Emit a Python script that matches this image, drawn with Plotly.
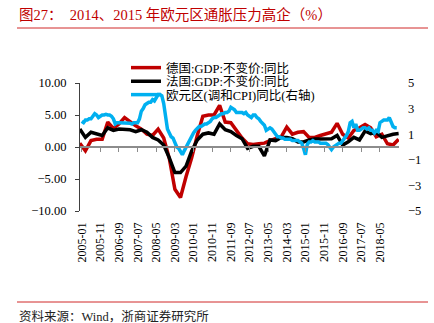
import pandas as pd
import plotly.graph_objects as go

# Monthly categories, 2005-01 .. 2019-02
months = [p.strftime("%Y-%m") for p in pd.period_range("2005-01", "2019-02", freq="M")]

# Quarterly GDP, constant prices, y/y (%), 2004Q4 .. 2019Q1
quarters = [str(p) for p in pd.period_range("2004Q4", "2019Q1", freq="Q")]
de_gdp = [0.6,
          -0.6, 1.0, 1.2, 1.2,
          3.9, 2.9, 3.6, 4.6,
          3.9, 3.3, 2.8, 2.0,
          1.8, 2.8, 1.4, -1.8,
          -6.6, -7.9, -4.6, -1.7,
          1.8, 4.8, 5.0, 5.0,
          6.5, 3.9, 3.8, 2.5,
          1.4, 0.5, 0.4, 0.5,
          0.6, 1.0, 1.25, 1.6,
          3.1, 2.0, 2.3, 2.4,
          1.5, 1.5, 1.8, 2.0,
          2.3, 3.7, 2.0, 1.4,
          2.6, 3.0, 3.5, 3.0,
          1.6, 2.0, 0.5, 0.3,
          1.2]
fr_gdp = [2.8,
          1.5, 2.3, 2.0, 1.8,
          3.0, 2.6, 2.8, 2.8,
          2.7, 2.4, 2.7, 2.3,
          1.5, 1.1, 0.3, -1.7,
          -4.0, -4.0, -3.0, -0.6,
          1.1, 2.0, 2.2, 2.0,
          3.6, 2.7, 2.4, 1.8,
          1.3, -0.2, 0.1, 0.1,
          -1.4, 1.1, 1.0, 1.5,
          1.5, 1.3, 0.8, 0.8,
          1.1, 1.25, 1.25, 1.3,
          1.3, 1.8, 0.3, 0.8,
          1.5, 1.1, 2.5, 2.1,
          2.3, 1.5, 1.8, 2.0,
          2.1]

# Euro area HICP y/y (%), monthly
ea_hicp = [
    2.0, 1.9, 2.1, 2.1, 2.2, 2.2, 2.4, 2.6, 2.5, 2.3, 2.4, 2.5,   # 2005
    2.5, 2.55, 2.5, 2.5, 2.4, 2.2, 1.8, 1.9, 1.9, 1.9, 1.85, 1.85,  # 2006
    1.9, 1.9, 1.85, 1.8, 1.9, 1.9, 1.9, 2.2, 2.8, 3.0, 3.3, 3.4,  # 2007
    3.5, 3.5, 3.7, 3.6, 3.9, 4.1, 4.1, 4.0, 3.4, 2.4, 1.4, 1.1,   # 2008
    0.8, 0.7, 0.3, 0.0, -0.1, -0.4, -0.6, -0.3, 0.0, 0.3, 0.6, 0.9,  # 2009
    1.1, 1.3, 1.5, 1.6, 1.6, 1.7, 1.8, 1.8, 1.9, 2.0, 2.2, 2.3,   # 2010
    2.3, 2.4, 2.5, 2.6, 2.6, 2.7, 2.7, 2.8, 3.1, 3.0, 2.9, 2.7,   # 2011
    2.7, 2.7, 2.7, 2.6, 2.7, 2.5, 2.4, 2.3, 2.5, 2.5, 2.3, 2.2,   # 2012
    2.0, 1.8, 1.7, 1.3, 1.4, 1.5, 1.4, 1.2, 1.0, 0.8, 0.8, 0.7,   # 2013
    0.7, 0.6, 0.6, 0.6, 0.6, 0.5, 0.5, 0.5, 0.5, 0.4, 0.3, -0.1,  # 2014
    -0.6, 0.2, 0.4, 0.4, 0.5, 0.4, 0.4, 0.4, 0.3, 0.3, 0.3, 0.3,  # 2015
    0.2, 0.0, -0.2, 0.0, 0.1, 0.2, 0.3, 0.3, 0.5, 0.6, 0.9, 1.2,  # 2016
    1.9, 2.0, 1.5, 1.8, 1.3, 1.3, 1.4, 1.5, 1.5, 1.4, 1.5, 1.3,   # 2017
    1.3, 1.1, 1.3, 1.2, 1.9, 2.0, 2.1, 2.1, 2.1, 2.3, 1.9, 1.6,   # 2018
    1.5, 1.5,                                                     # 2019
]

left_ticks = [-10, -5, 0, 5, 10]
right_ticks = [-5, -3, -1, 1, 3, 5]
tick_step = 10  # one date label every ten months

month_idx = list(range(len(months)))


def quarter_pos(q):
    """Index of the quarter's last month relative to 2005-01."""
    p = pd.Period(q, freq="Q")
    return (p.year - 2005) * 12 + p.quarter * 3 - 1


q_idx = [quarter_pos(q) for q in quarters]

SERIF = "Liberation Serif, 'Noto Sans CJK SC', serif"
RED = "#C00000"
BLUE = "#00B0F0"

# plot-area geometry in pixels, used to place decorations in paper units
L, R, T, B = 80, 35, 83, 112
W, H = 434, 323
pw, ph = W - L - R, H - T - B


def px(x):
    return (x - L) / pw


def py(y):
    return (H - B - y) / ph


fig = go.Figure()
fig.add_trace(go.Scatter(x=q_idx, y=de_gdp, mode="lines", name="德国:GDP:不变价:同比",
                         line=dict(color=RED, width=3.5), xaxis="x", yaxis="y",
                         legend="legend"))
fig.add_trace(go.Scatter(x=q_idx, y=fr_gdp, mode="lines", name="法国:GDP:不变价:同比",
                         line=dict(color="#000000", width=3.5), xaxis="x", yaxis="y",
                         legend="legend2"))
fig.add_trace(go.Scatter(x=month_idx, y=ea_hicp, mode="lines", name="欧元区(调和CPI)同比(右轴)",
                         line=dict(color=BLUE, width=3.5), xaxis="x2", yaxis="y2",
                         legend="legend3"))

xr = [-0.9, 170.2]
tickvals = month_idx[::tick_step]
ticktext = months[::tick_step]


def legend_box(row_y):
    return dict(x=px(126), y=py(row_y), xanchor="left", yanchor="middle",
                bgcolor="rgba(0,0,0,0)", borderwidth=0,
                font=dict(family=SERIF, size=12.5, color="#000000"),
                itemwidth=30)


fig.update_layout(
    width=W, height=H,
    margin=dict(l=L, r=R, t=T, b=B),
    paper_bgcolor="white", plot_bgcolor="white",
    font=dict(family=SERIF, size=12, color="#000000"),
    showlegend=True,
    legend=legend_box(68),
    legend2=legend_box(81.5),
    legend3=legend_box(95),
    xaxis=dict(range=xr, tickmode="array", tickvals=tickvals, ticktext=ticktext,
               tickangle=-90, showline=False, showgrid=False, zeroline=False,
               ticks="", ticklabelstandoff=8,
               tickfont=dict(family=SERIF, size=12)),
    xaxis2=dict(range=xr, overlaying="x", anchor="free", position=0.5, side="bottom",
                tickmode="array", tickvals=tickvals, showticklabels=False,
                showline=True, linecolor="#8C8C8C", linewidth=1.5,
                ticks="outside", ticklen=4, tickcolor="#8C8C8C", tickwidth=1,
                showgrid=False, zeroline=False),
    yaxis=dict(range=[-10, 10], tickmode="array", tickvals=left_ticks, tickformat=".2f",
               showline=True, linecolor="#404040", linewidth=1,
               ticks="outside", ticklen=4, tickcolor="#404040",
               showgrid=False, zeroline=False, ticklabelstandoff=6,
               tickfont=dict(family=SERIF, size=12.5)),
    yaxis2=dict(range=[-5, 5], tickmode="array", tickvals=right_ticks,
                overlaying="y", side="right", anchor="x",
                showline=False, ticks="", showgrid=False, zeroline=False,
                ticklabelstandoff=8,
                tickfont=dict(family=SERIF, size=12.5)),
)

# heading, source note and the two red rules
fig.add_annotation(text="图27：  2014、2015 年欧元区通胀压力高企（%）",
                   xref="paper", yref="paper", x=px(17), y=py(14),
                   xanchor="left", yanchor="middle", showarrow=False,
                   font=dict(family=SERIF, size=14.5, color=RED))
fig.add_annotation(text="资料来源：Wind，浙商证券研究所",
                   xref="paper", yref="paper", x=px(17), y=py(316),
                   xanchor="left", yanchor="middle", showarrow=False,
                   font=dict(family=SERIF, size=12.5, color="#222222"))
for yy in (28, 302):
    fig.add_shape(type="line", xref="paper", yref="paper",
                  x0=px(17), x1=px(428), y0=py(yy), y1=py(yy),
                  line=dict(color="#D02828", width=1))

fig.write_html("out.html")
